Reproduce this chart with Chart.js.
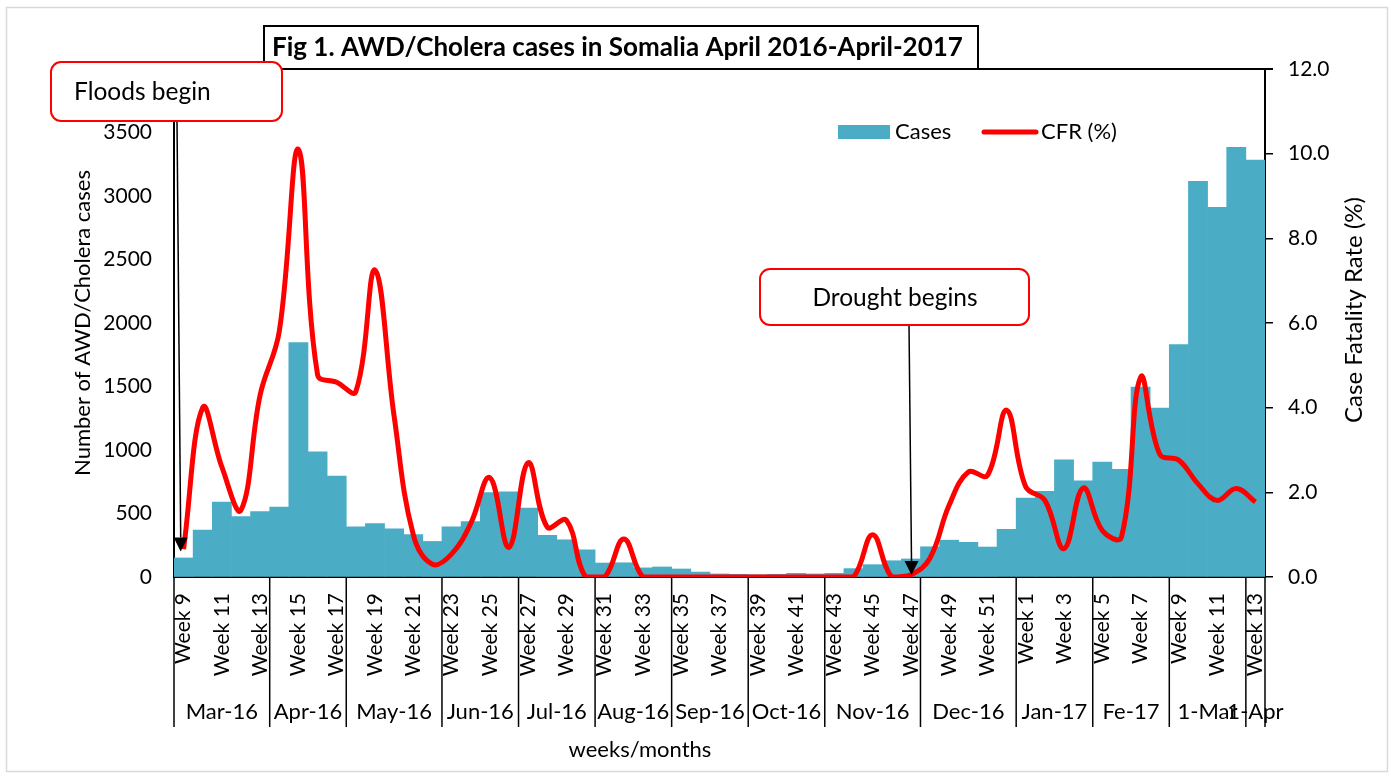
<!DOCTYPE html>
<html>
<head>
<meta charset="utf-8">
<script src="https://cdn.jsdelivr.net/npm/chart.js@4.4.1/dist/chart.umd.min.js"></script>
<style>
  body { margin: 0; background: #fff; }
  #wrap { width: 1391px; height: 778px; }
</style>
</head>
<body>
<div id="wrap"><canvas id="myChart" width="1391" height="778"></canvas></div>
<script>
// weekly data, week 9 2016 -> week 13 2017
const weekLabels = [
  'Week 9', 'Week 10', 'Week 11', 'Week 12', 'Week 13', 'Week 14', 'Week 15', 'Week 16', 'Week 17',
  'Week 18', 'Week 19', 'Week 20', 'Week 21', 'Week 22', 'Week 23', 'Week 24', 'Week 25', 'Week 26',
  'Week 27', 'Week 28', 'Week 29', 'Week 30', 'Week 31', 'Week 32', 'Week 33', 'Week 34', 'Week 35',
  'Week 36', 'Week 37', 'Week 38', 'Week 39', 'Week 40', 'Week 41', 'Week 42', 'Week 43', 'Week 44',
  'Week 45', 'Week 46', 'Week 47', 'Week 48', 'Week 49', 'Week 50', 'Week 51', 'Week 52',
  'Week 1', 'Week 2', 'Week 3', 'Week 4', 'Week 5', 'Week 6', 'Week 7', 'Week 8', 'Week 9',
  'Week 10', 'Week 11', 'Week 12', 'Week 13'
]
const cases = [
  150, 370, 590, 475, 515, 550, 1845, 985, 795,
  395, 420, 380, 335, 280, 395, 437, 665, 670,
  542, 328, 293, 214, 110, 112, 72, 79, 63,
  39, 24, 21, 18, 21, 29, 24, 29, 66,
  97, 128, 142, 238, 290, 273, 236, 375,
  622, 674, 923, 758, 905, 847, 1495, 1330, 1831,
  3116, 2911, 3383, 3283
]
const cfr = [
  0.66, 4.0, 2.6, 1.58, 4.3, 5.8, 10.1, 4.78, 4.6,
  4.38, 7.25, 3.8, 1.0, 0.3, 0.54, 1.26, 2.35, 0.7,
  2.7, 1.18, 1.34, 0.0, 0.0, 0.9, 0.0, 0.0, 0.0,
  0.0, 0.0, 0.0, 0.0, 0.0, 0.0, 0.0, 0.0, 0.0,
  1.0, 0.0, 0.05, 0.45, 1.7, 2.48, 2.4, 3.94,
  2.13, 1.81, 0.67, 2.1, 1.1, 0.94, 4.72, 2.9, 2.76,
  2.2, 1.81, 2.09, 1.77
]
const monthLabels = ['Mar-16', 'Apr-16', 'May-16', 'Jun-16', 'Jul-16', 'Aug-16', 'Sep-16',
  'Oct-16', 'Nov-16', 'Dec-16', 'Jan-17', 'Fe-17', '1-Mar', '1-Apr']
const monthWeeks = [5, 4, 5, 4, 4, 4, 4, 4, 5, 5, 4, 4, 4, 1]

const barColor = '#4BACC6'
const lineColor = '#FF0000'

Chart.defaults.font.family = 'Lato'
Chart.defaults.font.size = 21
Chart.defaults.color = '#000'

function roundBox(ctx, x, y, w, h, r) {
  ctx.beginPath()
  ctx.moveTo(x + r, y)
  ctx.arcTo(x + w, y, x + w, y + h, r)
  ctx.arcTo(x + w, y + h, x, y + h, r)
  ctx.arcTo(x, y + h, x, y, r)
  ctx.arcTo(x, y, x + w, y, r)
  ctx.closePath()
  ctx.fillStyle = '#fff'
  ctx.fill()
  ctx.strokeStyle = lineColor
  ctx.lineWidth = 2
  ctx.stroke()
}

function arrow(ctx, x1, y1, x2, y2, head) {
  ctx.strokeStyle = '#000'
  ctx.fillStyle = '#000'
  ctx.lineWidth = 1.5
  ctx.beginPath()
  ctx.moveTo(x1, y1)
  ctx.lineTo(x2, y2 - head)
  ctx.stroke()
  ctx.beginPath()
  ctx.moveTo(x2, y2)
  ctx.lineTo(x2 - 7, y2 - head)
  ctx.lineTo(x2 + 7, y2 - head)
  ctx.closePath()
  ctx.fill()
}

const extras = {
  id: 'extras',
  afterDraw(chart) {
    const ctx = chart.ctx
    const xs = chart.scales.x
    const area = chart.chartArea
    ctx.save()

    // outer frame
    ctx.strokeStyle = '#D9D9D9'
    ctx.lineWidth = 1.5
    ctx.strokeRect(6.5, 7.5, 1381, 764)

    // top line of the plot
    ctx.strokeStyle = '#000'
    ctx.lineWidth = 2
    ctx.beginPath()
    ctx.moveTo(area.left, area.top)
    ctx.lineTo(area.right + 8, area.top)
    ctx.stroke()

    // month level of the x axis
    const half = (xs.getPixelForValue(1) - xs.getPixelForValue(0)) / 2
    ctx.lineWidth = 1.5
    ctx.font = '22px Lato'
    ctx.textAlign = 'center'
    ctx.textBaseline = 'middle'
    ctx.fillStyle = '#000'
    let start = 0
    monthLabels.forEach((m, i) => {
      const x0 = xs.getPixelForValue(start) - half
      const x1 = xs.getPixelForValue(start + monthWeeks[i] - 1) + half
      ctx.beginPath()
      ctx.moveTo(x0, area.bottom)
      ctx.lineTo(x0, 727)
      ctx.stroke()
      ctx.fillText(m, (x0 + x1) / 2, 712)
      start += monthWeeks[i]
    })
    ctx.beginPath()
    ctx.moveTo(area.right, area.bottom)
    ctx.lineTo(area.right, 727)
    ctx.stroke()

    // axis titles
    ctx.fillText('weeks/months', 640, 750)
    ctx.save()
    ctx.translate(83, 323)
    ctx.rotate(-Math.PI / 2)
    ctx.fillText('Number of AWD/Cholera cases', 0, 0)
    ctx.restore()
    ctx.save()
    ctx.font = '24px Lato'
    ctx.translate(1354, 310)
    ctx.rotate(-Math.PI / 2)
    ctx.fillText('Case Fatality Rate (%)', 0, 0)
    ctx.restore()

    // title box
    ctx.fillStyle = '#fff'
    ctx.fillRect(264, 26, 714, 43)
    ctx.strokeStyle = '#000'
    ctx.lineWidth = 2
    ctx.strokeRect(264, 26, 714, 43)
    ctx.fillStyle = '#000'
    ctx.font = 'bold 26px Lato'
    ctx.textAlign = 'left'
    ctx.fillText('Fig 1. AWD/Cholera cases in Somalia April 2016-April-2017', 272, 48)

    // legend
    ctx.font = '22px Lato'
    ctx.fillStyle = barColor
    ctx.fillRect(838, 125, 52, 14)
    ctx.fillStyle = '#000'
    ctx.fillText('Cases', 895, 132)
    ctx.strokeStyle = lineColor
    ctx.lineWidth = 5
    ctx.lineCap = 'round'
    ctx.beginPath()
    ctx.moveTo(984, 132)
    ctx.lineTo(1036, 132)
    ctx.stroke()
    ctx.lineCap = 'butt'
    ctx.fillText('CFR (%)', 1041, 132)

    // annotations
    arrow(ctx, 177, 121, 180.7, 551.5, 14)
    roundBox(ctx, 51, 62, 231, 59, 10)
    ctx.fillStyle = '#000'
    ctx.font = '24.5px Lato'
    ctx.textAlign = 'left'
    ctx.fillText('Floods begin', 74, 92)

    arrow(ctx, 909, 325, 911.5, 575, 14)
    roundBox(ctx, 760, 269, 269, 56, 10)
    ctx.fillStyle = '#000'
    ctx.textAlign = 'center'
    ctx.fillText('Drought begins', 895, 298)

    ctx.restore()
  }
}

const myChart = document.getElementById('myChart')

const masspopChart = new Chart(myChart, {
  data: {
    labels: weekLabels,
    datasets: [{
      type: 'line',
      label: 'CFR (%)',
      data: cfr,
      yAxisID: 'y1',
      borderColor: lineColor,
      borderWidth: 5,
      pointRadius: 0,
      tension: 0.4,
      fill: false,
      order: 0
    }, {
      type: 'bar',
      label: 'Cases',
      data: cases,
      yAxisID: 'y',
      backgroundColor: barColor,
      borderWidth: 0,
      barPercentage: 1,
      categoryPercentage: 1,
      order: 1
    }]
  },
  options: {
    responsive: false,
    animation: false,
    layout: { padding: { top: 69, left: 0, right: 0, bottom: 0 } },
    plugins: {
      legend: { display: false },
      tooltip: { enabled: false }
    },
    scales: {
      x: {
        grid: { display: false, drawTicks: false },
        border: { display: true, color: '#000', width: 2 },
        ticks: {
          autoSkip: false,
          minRotation: 90,
          maxRotation: 90,
          padding: 16,
          callback: function (val, idx) {
            return idx % 2 === 0 ? weekLabels[idx] : ''
          }
        },
        afterFit: function (s) { s.height = 778 - 577 }
      },
      y: {
        position: 'left',
        min: 0,
        max: 4000,
        grid: { drawOnChartArea: false, drawTicks: false },
        border: { display: true, color: '#000', width: 2 },
        ticks: {
          stepSize: 500,
          padding: 22,
          callback: function (v) { return String(v) }
        },
        afterFit: function (s) { s.width = 174 }
      },
      y1: {
        position: 'right',
        min: 0,
        max: 12,
        grid: { drawOnChartArea: false, drawTicks: true, tickLength: 8, color: '#000', lineWidth: 1.5 },
        border: { display: true, color: '#000', width: 2 },
        ticks: {
          stepSize: 2,
          padding: 15,
          callback: function (v) { return v.toFixed(1) }
        },
        afterFit: function (s) { s.width = 1391 - 1265 }
      }
    }
  },
  plugins: [extras]
})
</script>
</body>
</html>
